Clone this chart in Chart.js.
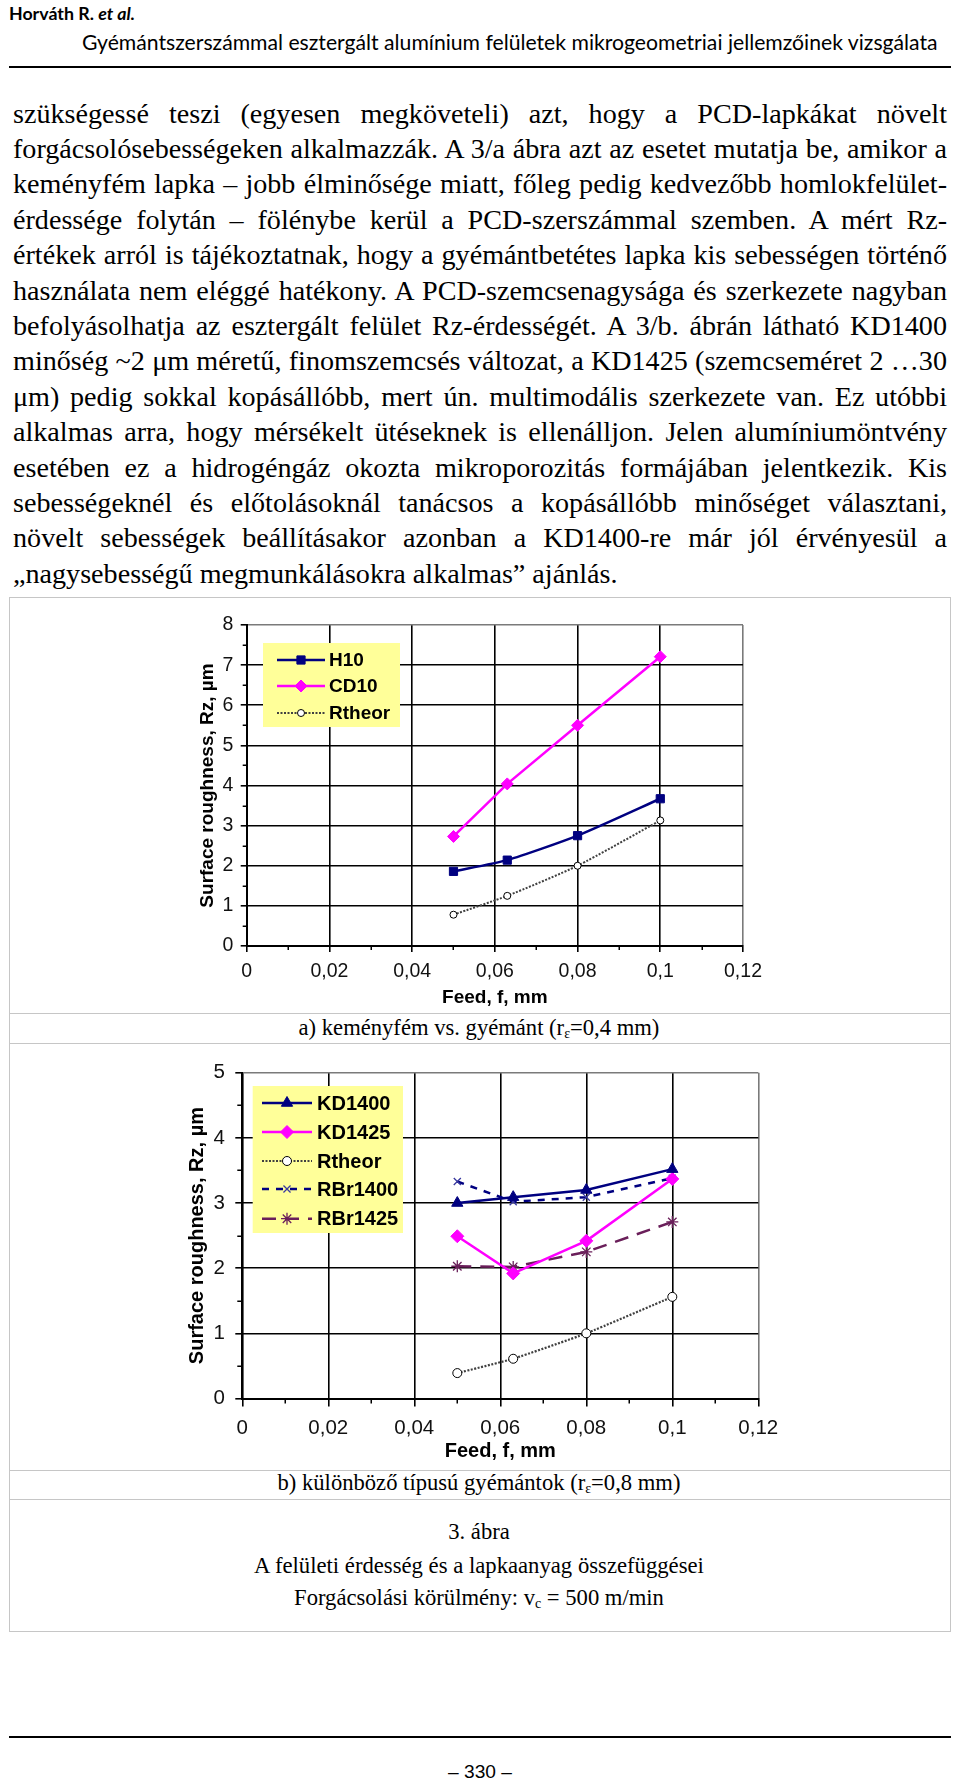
<!DOCTYPE html>
<html lang="hu">
<head>
<meta charset="utf-8">
<title>3. ábra – Surface roughness</title>
<script src="https://cdn.jsdelivr.net/npm/chart.js@4.4.1/dist/chart.umd.min.js"></script>
<style>
  html, body { margin:0; padding:0; background:#fff; }
  body { width:960px; height:1784px; position:relative; overflow:hidden; }
  .t { position:absolute; white-space:nowrap; line-height:1; color:#000; }
  .t sub { font-size:0.62em; vertical-align:-0.18em; line-height:0; }
  .pl { position:absolute; left:13px; width:934px; text-align:justify; text-align-last:justify;
        line-height:1; color:#000; white-space:normal; }
  .pl.last { text-align-last:left; }
  .rule { position:absolute; left:9px; width:942px; height:2px; background:#000; }
  .frame { position:absolute; left:9px; top:597px; width:940px; height:1033px; border:1px solid #c6c6c6; }
  .hl { position:absolute; left:9px; width:942px; height:1px; background:#c6c6c6; }
  canvas { position:absolute; }
</style>
</head>
<body>
<div class="rule" style="top:66px"></div>
<div class="frame"></div>
<div class="hl" style="top:1013px"></div>
<div class="hl" style="top:1043px"></div>
<div class="hl" style="top:1470px"></div>
<div class="hl" style="top:1499px"></div>
<div class="rule" style="top:1736px"></div>
<canvas id="chartA" width="650" height="412" style="left:150px;top:600px;width:650px;height:412px"></canvas>
<canvas id="chartB" width="650" height="426" style="left:150px;top:1044px;width:650px;height:426px"></canvas>
<script>
// ---------- data ----------
const feed      = [0.05, 0.063, 0.08, 0.1];
// chart a) keményfém vs. gyémánt
const H10       = [1.86, 2.14, 2.75, 3.67];
const CD10      = [2.73, 4.04, 5.50, 7.21];
const RtheorA   = [0.78, 1.25, 2.00, 3.13];
// chart b) különböző típusú gyémántok
const KD1400    = [3.00, 3.09, 3.20, 3.52];
const KD1425    = [2.49, 1.92, 2.42, 3.37];
const RtheorB   = [0.39, 0.61, 1.00, 1.56];
const RBr1400   = [3.33, 3.02, 3.09, 3.38];
const RBr1425   = [2.03, 2.02, 2.25, 2.71];
// axes
const xTicks      = [0, 0.02, 0.04, 0.06, 0.08, 0.1, 0.12];
const xMinorTicks = [0.01, 0.03, 0.05, 0.07, 0.09, 0.11];
const yTicksA     = [0, 1, 2, 3, 4, 5, 6, 7, 8];
const yMinorA     = [0.5, 1.5, 2.5, 3.5, 4.5, 5.5, 6.5, 7.5];
const yTicksB     = [0, 1, 2, 3, 4, 5];
const yMinorB     = [0.5, 1.5, 2.5, 3.5, 4.5];

// ---------- page text ----------
const paraLines = [
  "szükségessé teszi (egyesen megköveteli) azt, hogy a PCD-lapkákat növelt",
  "forgácsolósebességeken alkalmazzák. A 3/a ábra azt az esetet mutatja be, amikor a",
  "keményfém lapka – jobb élminősége miatt, főleg pedig kedvezőbb homlokfelület-",
  "érdessége folytán – fölénybe kerül a PCD-szerszámmal szemben. A mért Rz-",
  "értékek arról is tájékoztatnak, hogy a gyémántbetétes lapka kis sebességen történő",
  "használata nem eléggé hatékony. A PCD-szemcsenagysága és szerkezete nagyban",
  "befolyásolhatja az esztergált felület Rz-érdességét. A 3/b. ábrán látható KD1400",
  "minőség ~2 μm méretű, finomszemcsés változat, a KD1425 (szemcseméret 2 …30",
  "μm) pedig sokkal kopásállóbb, mert ún. multimodális szerkezete van. Ez utóbbi",
  "alkalmas arra, hogy mérsékelt ütéseknek is ellenálljon. Jelen alumíniumöntvény",
  "esetében ez a hidrogéngáz okozta mikroporozitás formájában jelentkezik. Kis",
  "sebességeknél és előtolásoknál tanácsos a kopásállóbb minőséget választani,",
  "növelt sebességek beállításakor azonban a KD1400-re már jól érvényesül a",
  "„nagysebességű megmunkálásokra alkalmas” ajánlás."
];

const F_SERIF = "'Liberation Serif','Times New Roman',serif";
const F_CAL   = "Lato,'Open Sans',sans-serif";
const F_NARROW= "'Liberation Sans Narrow','Liberation Sans',Arial,sans-serif";
const F_ARIAL = "'Liberation Sans',Arial,sans-serif";

function hasFont(name) {
  const c = document.createElement('canvas').getContext('2d');
  const s = 'mmmmmmmmmmlli0,12WWabc';
  let diff = false;
  ['monospace', 'serif'].forEach(g => {
    c.font = '72px ' + g; const a = c.measureText(s).width;
    c.font = "72px '" + name + "', " + g; const b = c.measureText(s).width;
    if (Math.abs(a - b) > 0.5) diff = true;
  });
  return diff;
}
const NARROW_OK = hasFont('Liberation Sans Narrow');
const TICK_FAMILY = NARROW_OK ? "'Liberation Sans Narrow'" : "'Liberation Sans', Arial, sans-serif";
const TICK_SIZE_A = NARROW_OK ? 21 : 19.5;
const TICK_SIZE_B = NARROW_OK ? 22 : 20.5;

function put(html, o) {
  const d = document.createElement('div');
  d.className = 't';
  d.innerHTML = html;
  d.style.fontFamily = o.font;
  d.style.fontWeight = o.weight || 'normal';
  let size = o.size || 20;
  d.style.fontSize = size + 'px';
  document.body.appendChild(d);
  if (o.fitW) {
    const w0 = d.getBoundingClientRect().width;
    size = size * o.fitW / w0;
    d.style.fontSize = size + 'px';
  }
  const r = d.getBoundingClientRect();
  let x = o.left;
  if (o.cx != null) x = o.cx - r.width / 2;
  if (o.right != null) x = o.right - r.width;
  d.style.left = x + 'px';
  d.style.top = (o.cy - (o.k || 0.56) * size) + 'px';
  return size;
}

put('Horváth R. <i>et al.</i>', {font:F_CAL, weight:'bold', size:20, fitW:126, left:9, cy:15});
put('Gyémántszerszámmal esztergált alumínium felületek mikrogeometriai jellemzőinek vizsgálata',
    {font:F_CAL, size:20, fitW:856, left:82, cy:44});

// paragraph: one justified block per printed line
(function(){
  const m = document.createElement('span');
  m.style.position = 'absolute';
  m.style.visibility = 'hidden';
  m.style.whiteSpace = 'nowrap';
  m.style.fontSize = '100px';
  m.style.fontFamily = F_SERIF;
  document.body.appendChild(m);
  let fs = Infinity;
  paraLines.forEach((l, i) => {
    if (i === paraLines.length - 1) return;
    m.textContent = l;
    fs = Math.min(fs, 100 * 932 / m.getBoundingClientRect().width);
  });
  m.remove();
  paraLines.forEach((l, i) => {
    const d = document.createElement('div');
    d.className = 'pl' + (i === paraLines.length - 1 ? ' last' : '');
    d.textContent = l;
    d.style.fontFamily = F_SERIF;
    d.style.fontSize = fs + 'px';
    const cy = 116.5 + 35.4 * i;
    d.style.top = (cy - 0.6 * fs) + 'px';
    document.body.appendChild(d);
  });
})();

// captions
(function(){
  const capFs = put('b) különböző típusú gyémántok (r<sub>ε</sub>=0,8 mm)', {font:F_SERIF, size:22, fitW:403, cx:479, cy:1486, k:0.6});
  put('a) keményfém vs. gyémánt (r<sub>ε</sub>=0,4 mm)', {font:F_SERIF, size:capFs, cx:479, cy:1031, k:0.6});
  put('3. ábra', {font:F_SERIF, size:capFs, cx:479, cy:1535, k:0.6});
  put('A felületi érdesség és a lapkaanyag összefüggései', {font:F_SERIF, size:22, fitW:450, cx:479, cy:1569, k:0.6});
  put('Forgácsolási körülmény: v<sub>c</sub> = 500 m/min', {font:F_SERIF, size:22, fitW:370, cx:479, cy:1601, k:0.6});
  put('– 330 –', {font:F_NARROW, size:20, fitW:64, cx:480, cy:1772, k:0.5});
})();

// ---------- chart helpers ----------
const NAVY = '#000080', MAG = '#FF00FF', THEOR = '#404040', PLUM = '#6A1F5A', EDGE = '#7a7a7a';
Chart.defaults.font.family = F_ARIAL;
Chart.defaults.color = '#111';

function pts(arr) { return feed.map((x, i) => ({x: x, y: arr[i]})); }
function fmt(v) { return String(Math.round(v * 100) / 100).replace('.', ','); }

function marker(ctx, style, r, x, y, fill, stroke, lw) {
  ctx.save();
  ctx.setLineDash([]);
  ctx.fillStyle = fill; ctx.strokeStyle = stroke; ctx.lineWidth = lw;
  ctx.beginPath();
  if (style === 'rect') { const s = r * Math.SQRT1_2; ctx.rect(x - s, y - s, 2 * s, 2 * s); }
  else if (style === 'rectRot') { ctx.moveTo(x, y - r); ctx.lineTo(x + r, y); ctx.lineTo(x, y + r); ctx.lineTo(x - r, y); ctx.closePath(); }
  else if (style === 'circle') { ctx.arc(x, y, r, 0, Math.PI * 2); }
  else if (style === 'triangle') { ctx.moveTo(x, y - r); ctx.lineTo(x + r * 0.866, y + r * 0.5); ctx.lineTo(x - r * 0.866, y + r * 0.5); ctx.closePath(); }
  else if (style === 'crossRot' || style === 'star') {
    const d = r * Math.SQRT1_2;
    ctx.moveTo(x - d, y - d); ctx.lineTo(x + d, y + d); ctx.moveTo(x + d, y - d); ctx.lineTo(x - d, y + d);
    if (style === 'star') { ctx.moveTo(x, y - r); ctx.lineTo(x, y + r); ctx.moveTo(x - r, y); ctx.lineTo(x + r, y); }
    ctx.stroke(); ctx.restore(); return;
  }
  ctx.fill(); if (lw > 0) ctx.stroke();
  ctx.restore();
}

const boxLegend = {
  id: 'boxLegend',
  afterDraw(chart, args, o) {
    const ctx = chart.ctx;
    ctx.save();
    ctx.fillStyle = '#FFFF99';
    ctx.fillRect(o.x, o.y, o.w, o.h);
    o.items.forEach((it, i) => {
      const y = o.rows[i];
      ctx.strokeStyle = it.color; ctx.lineWidth = it.width; ctx.setLineDash(it.dash || []);
      ctx.beginPath(); ctx.moveTo(o.lx1, y); ctx.lineTo(o.lx2, y); ctx.stroke();
      ctx.setLineDash([]);
      marker(ctx, it.pointStyle, it.radius, (o.lx1 + o.lx2) / 2, y, it.fill, it.stroke, it.pbw);
      ctx.fillStyle = '#000';
      ctx.font = o.font;
      ctx.textBaseline = 'middle';
      ctx.textAlign = 'left';
      ctx.fillText(it.label, o.tx, y + 1);
    });
    ctx.restore();
  }
};

const minorTicks = {
  id: 'minorTicks',
  beforeDatasetsDraw(chart, args, o) {
    const {ctx, chartArea} = chart;
    const sx = chart.scales.x, sy = chart.scales.y;
    ctx.save();
    ctx.strokeStyle = '#000'; ctx.lineWidth = 1.5;
    ctx.beginPath();
    o.x.forEach(v => { const p = Math.round(sx.getPixelForValue(v)) + 0.25; ctx.moveTo(p, chartArea.bottom); ctx.lineTo(p, chartArea.bottom + o.len); });
    o.y.forEach(v => { const p = Math.round(sy.getPixelForValue(v)) + 0.25; ctx.moveTo(chartArea.left, p); ctx.lineTo(chartArea.left - o.len, p); });
    ctx.stroke();
    ctx.restore();
  }
};

function axisCfg(isX, o) {
  return {
    type: 'linear',
    min: o.min, max: o.max,
    afterBuildTicks: s => { s.ticks = o.ticks.map(v => ({value: v})); },
    afterFit: s => { if (isX) s.height = o.size; else s.width = o.size; },
    ticks: { callback: v => fmt(v), font: {size: o.font, family: TICK_FAMILY}, color: '#111', padding: o.pad, maxRotation: 0, autoSkip: false },
    grid: {
      color: c => (c.tick && Math.abs(c.tick.value - o.max) < 1e-9) ? EDGE : '#000',
      lineWidth: 1.6, tickLength: o.tl, tickColor: '#000', tickWidth: 1.6
    },
    border: { color: '#000', width: 2 },
    title: { display: true, text: o.title, color: '#000', font: {size: o.tfont, weight: 'bold'}, padding: o.tpad }
  };
}
// x-label padding so that label centres land where the reference has them
function xPad(gap, tl, size) { return gap - tl - size * 0.6; }

// ---------- chart a ----------
new Chart(document.getElementById('chartA'), {
  type: 'line',
  data: { datasets: [
    { label: 'H10', data: pts(H10), borderColor: NAVY, backgroundColor: NAVY, borderWidth: 2.5,
      pointStyle: 'rect', pointRadius: 5.8, pointBorderWidth: 1, tension: 0.2 },
    { label: 'CD10', data: pts(CD10), borderColor: MAG, backgroundColor: MAG, borderWidth: 2.5,
      pointStyle: 'rectRot', pointRadius: 6, pointBorderWidth: 1, tension: 0 },
    { label: 'Rtheor', data: pts(RtheorA), borderColor: THEOR, backgroundColor: '#fff', borderWidth: 2, borderDash: [2, 1.5],
      pointStyle: 'circle', pointRadius: 3.5, pointBorderColor: '#000', pointBorderWidth: 1, tension: 0.2 }
  ]},
  options: {
    responsive: false, animation: false, events: [],
    layout: { padding: { top: 25, right: 57, left: 0, bottom: 0 } },
    plugins: {
      legend: { display: false }, tooltip: { enabled: false },
      minorTicks: { x: xMinorTicks, y: yMinorA, len: 4 },
      boxLegend: {
        x: 113, y: 43, w: 137, h: 84, rows: [60, 86, 113], lx1: 127, lx2: 175, tx: 179,
        font: "bold 19px 'Liberation Sans', Arial, sans-serif",
        items: [
          { label: 'H10', color: NAVY, width: 2.5, pointStyle: 'rect', radius: 5.8, fill: NAVY, stroke: NAVY, pbw: 1 },
          { label: 'CD10', color: MAG, width: 2.5, pointStyle: 'rectRot', radius: 6, fill: MAG, stroke: MAG, pbw: 1 },
          { label: 'Rtheor', color: THEOR, width: 2, dash: [2, 1.5], pointStyle: 'circle', radius: 3.5, fill: '#fff', stroke: '#000', pbw: 1 }
        ]
      }
    },
    scales: {
      x: axisCfg(true, { min: 0, max: 0.12, ticks: xTicks, size: 66, font: TICK_SIZE_A, pad: xPad(26, 6, TICK_SIZE_A), tl: 6,
                         title: 'Feed, f, mm', tfont: 19, tpad: { top: 0, bottom: 2.6 } }),
      y: axisCfg(false, { min: 0, max: 8, ticks: yTicksA, size: 96.7, font: TICK_SIZE_A, pad: 7.4, tl: 6,
                          title: 'Surface roughness, Rz, µm', tfont: 19, tpad: { top: 46.6, bottom: 0 } })
    }
  },
  plugins: [minorTicks, boxLegend]
});

// ---------- chart b ----------
new Chart(document.getElementById('chartB'), {
  type: 'line',
  data: { datasets: [
    { label: 'KD1400', data: pts(KD1400), borderColor: NAVY, backgroundColor: NAVY, borderWidth: 2.5,
      pointStyle: 'triangle', pointRadius: 6.5, pointBorderWidth: 1, tension: 0 },
    { label: 'KD1425', data: pts(KD1425), borderColor: MAG, backgroundColor: MAG, borderWidth: 2.5,
      pointStyle: 'rectRot', pointRadius: 6.5, pointBorderWidth: 1, tension: 0 },
    { label: 'Rtheor', data: pts(RtheorB), borderColor: THEOR, backgroundColor: '#fff', borderWidth: 2.2, borderDash: [2, 1.5],
      pointStyle: 'circle', pointRadius: 4.5, pointBorderColor: '#000', pointBorderWidth: 1, tension: 0.15 },
    { label: 'RBr1400', data: pts(RBr1400), borderColor: NAVY, backgroundColor: NAVY, borderWidth: 2.5, borderDash: [7, 7],
      pointStyle: 'crossRot', pointRadius: 5, pointBorderColor: '#3a3aa0', pointBorderWidth: 1.3, tension: 0 },
    { label: 'RBr1425', data: pts(RBr1425), borderColor: PLUM, backgroundColor: PLUM, borderWidth: 2.5, borderDash: [14, 9],
      pointStyle: 'star', pointRadius: 6, pointBorderColor: PLUM, pointBorderWidth: 1.3, tension: 0 }
  ]},
  options: {
    responsive: false, animation: false, events: [],
    layout: { padding: { top: 28.7, right: 41.7, left: 0, bottom: 0 } },
    plugins: {
      legend: { display: false }, tooltip: { enabled: false },
      minorTicks: { x: xMinorTicks, y: yMinorB, len: 5 },
      boxLegend: {
        x: 102.7, y: 42, w: 150.3, h: 147, rows: [59, 88, 117, 145, 174.7], lx1: 112, lx2: 162, tx: 167,
        font: "bold 20px 'Liberation Sans', Arial, sans-serif",
        items: [
          { label: 'KD1400', color: NAVY, width: 2.5, pointStyle: 'triangle', radius: 6.5, fill: NAVY, stroke: NAVY, pbw: 1 },
          { label: 'KD1425', color: MAG, width: 2.5, pointStyle: 'rectRot', radius: 6.5, fill: MAG, stroke: MAG, pbw: 1 },
          { label: 'Rtheor', color: THEOR, width: 2.2, dash: [2, 1.5], pointStyle: 'circle', radius: 4.5, fill: '#fff', stroke: '#000', pbw: 1 },
          { label: 'RBr1400', color: NAVY, width: 2.5, dash: [7, 7], pointStyle: 'crossRot', radius: 5, fill: '#3a3aa0', stroke: '#3a3aa0', pbw: 1.3 },
          { label: 'RBr1425', color: PLUM, width: 2.5, dash: [14, 9], pointStyle: 'star', radius: 6, fill: PLUM, stroke: PLUM, pbw: 1.3 }
        ]
      }
    },
    scales: {
      x: axisCfg(true, { min: 0, max: 0.12, ticks: xTicks, size: 71.5, font: TICK_SIZE_B, pad: xPad(29.5, 8, TICK_SIZE_B), tl: 8,
                         title: 'Feed, f, mm', tfont: 20, tpad: { top: 0, bottom: 7 } }),
      y: axisCfg(false, { min: 0, max: 5, ticks: yTicksB, size: 92.3, font: TICK_SIZE_B, pad: 10.3, tl: 7,
                          title: 'Surface roughness, Rz, µm', tfont: 20, tpad: { top: 35, bottom: 0 } })
    }
  },
  plugins: [minorTicks, boxLegend]
});
</script>
</body>
</html>
